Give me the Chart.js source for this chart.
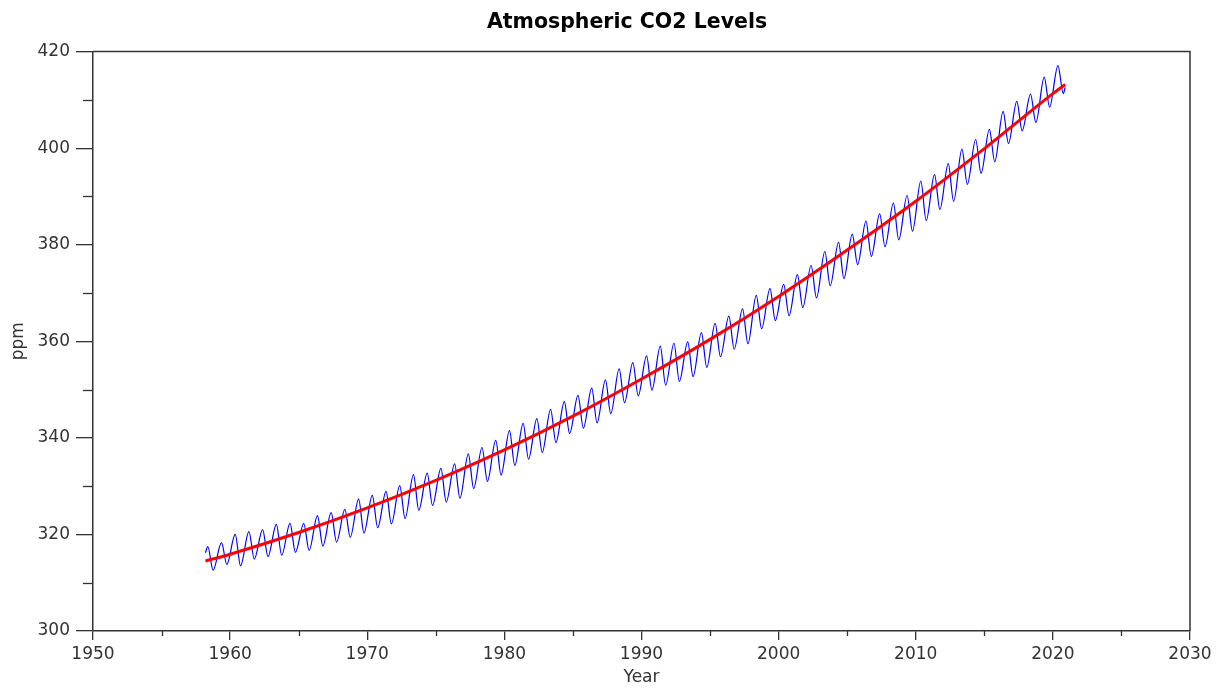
<!DOCTYPE html>
<html>
<head>
<meta charset="utf-8">
<title>Atmospheric CO2 Levels</title>
<script src="https://cdn.jsdelivr.net/npm/chart.js@4.4.1/dist/chart.umd.min.js"></script>
<style>
  html, body { margin: 0; padding: 0; background: #fff; }
  #wrap { width: 1222px; height: 688px; }
</style>
</head>
<body>
<div id="wrap"><canvas id="co2Chart" width="1222" height="688"></canvas></div>
<script>
// seasonal cycle: one high (May) and one low (autumn) per year
const years = [1958, 1959, 1960, 1961, 1962, 1963, 1964, 1965, 1966, 1967, 1968, 1969,
  1970, 1971, 1972, 1973, 1974, 1975, 1976, 1977, 1978, 1979, 1980, 1981, 1982, 1983,
  1984, 1985, 1986, 1987, 1988, 1989, 1990, 1991, 1992, 1993, 1994, 1995, 1996, 1997,
  1998, 1999, 2000, 2001, 2002, 2003, 2004, 2005, 2006, 2007, 2008, 2009, 2010, 2011,
  2012, 2013, 2014, 2015, 2016, 2017, 2018, 2019, 2020];
const mayPeak = [317.5, 318.3, 320.0, 320.6, 321.0, 322.1, 322.3, 322.3, 323.9, 324.5, 325.2, 327.3,
  328.1, 328.9, 330.1, 332.4, 332.7, 333.7, 334.6, 336.7, 338.0, 339.5, 341.5, 343.0, 344.0, 345.9,
  347.5, 348.8, 350.3, 352.0, 354.3, 355.6, 357.0, 359.0, 359.6, 359.9, 361.8, 363.7, 365.2, 366.7,
  369.5, 370.9, 371.8, 373.8, 375.7, 378.6, 380.5, 382.2, 384.9, 386.4, 388.6, 390.2, 393.2, 394.5,
  396.8, 399.8, 401.8, 403.9, 407.6, 409.7, 411.2, 414.7, 417.1];
const autumnLow = [312.6, 313.8, 313.5, 314.9, 315.4, 315.7, 316.3, 316.7, 317.6, 318.4, 319.4, 320.3,
  321.4, 322.2, 323.3, 325.0, 326.0, 326.7, 327.5, 329.5, 331.0, 332.3, 334.3, 335.6, 337.0, 339.0,
  340.9, 342.0, 343.1, 345.0, 347.3, 348.7, 349.9, 350.9, 351.7, 352.7, 354.6, 356.8, 358.4, 359.5,
  362.6, 364.3, 365.3, 367.0, 369.0, 371.5, 373.0, 375.9, 377.6, 379.6, 381.0, 382.8, 385.0, 387.3,
  389.0, 392.5, 394.8, 397.2, 401.0, 403.6, 405.3, 408.5, 411.3];
const firstObs = { year: 1958.2, ppm: 316.2 };
const lastObs = { year: 2020.9, ppm: 412.6 };

// fitted trend (red)
const trendYears = [1958.2, 1960, 1965, 1970, 1975, 1980, 1985, 1990, 1995, 2000, 2005, 2010, 2015, 2020, 2020.9];
const trendPpm = [314.5, 315.9, 320.4, 325.5, 331.2, 337.5, 344.5, 352.2, 360.4, 369.3, 378.9, 389.0, 399.9, 411.3, 413.2];

const xTicks = [1950, 1960, 1970, 1980, 1990, 2000, 2010, 2020, 2030];
const xMinor = [1955, 1965, 1975, 1985, 1995, 2005, 2015, 2025];
const yTicks = [300, 320, 340, 360, 380, 400, 420];
const yMinor = [310, 330, 350, 370, 390, 410];

const axisColor = '#333333';
const fontFamily = '"DejaVu Sans", Verdana, sans-serif';

const seasonal = [{ x: firstObs.year, y: firstObs.ppm }];
years.forEach((yr, i) => {
  seasonal.push({ x: yr + 0.37, y: mayPeak[i] });
  seasonal.push({ x: yr + 0.76, y: autumnLow[i] });
});
seasonal.push({ x: lastObs.year, y: lastObs.ppm });

const trend = trendYears.map((yr, i) => ({ x: yr, y: trendPpm[i] }));

// minor ticks and the top/right frame
const framePlugin = {
  id: 'frame',
  afterDraw(chart) {
    const { ctx, chartArea: a, scales: { x, y } } = chart;
    ctx.save();
    ctx.strokeStyle = axisColor;
    ctx.lineWidth = 1.5;
    ctx.beginPath();
    ctx.moveTo(a.left, a.top);
    ctx.lineTo(a.right, a.top);
    ctx.lineTo(a.right, a.bottom);
    ctx.stroke();
    ctx.lineWidth = 1.3;
    xMinor.forEach(v => {
      const px = Math.round(x.getPixelForValue(v)) + 0.5;
      ctx.beginPath();
      ctx.moveTo(px, a.bottom);
      ctx.lineTo(px, a.bottom + 5);
      ctx.stroke();
    });
    yMinor.forEach(v => {
      const py = Math.round(y.getPixelForValue(v)) + 0.5;
      ctx.beginPath();
      ctx.moveTo(a.left - 10, py);
      ctx.lineTo(a.left, py);
      ctx.stroke();
    });
    ctx.restore();
  }
};

new Chart(document.getElementById('co2Chart'), {
  type: 'line',
  data: {
    datasets: [
      {
        label: 'Trend',
        data: trend,
        borderColor: '#ff0000',
        borderWidth: 3,
        pointRadius: 0,
        cubicInterpolationMode: 'monotone',
        tension: 0.4,
        fill: false
      },
      {
        label: 'Monthly CO2',
        data: seasonal,
        borderColor: '#0000ff',
        borderWidth: 1.2,
        pointRadius: 0,
        cubicInterpolationMode: 'monotone',
        tension: 0.4,
        fill: false
      }
    ]
  },
  options: {
    responsive: false,
    animation: false,
    parsing: false,
    layout: { padding: { left: 32, right: 0, top: 0, bottom: 0 } },
    plugins: {
      legend: { display: false },
      tooltip: { enabled: false },
      title: {
        display: true,
        text: 'Atmospheric CO2 Levels',
        color: '#000',
        font: { family: fontFamily, size: 20.5, weight: 'bold' },
        padding: { top: 10, bottom: 17 }
      }
    },
    scales: {
      x: {
        type: 'linear',
        min: 1950,
        max: 2030,
        afterBuildTicks: s => { s.ticks = xTicks.map(v => ({ value: v })); },
        afterFit: s => { s.height = 57; s.paddingRight = 32; },
        grid: { drawOnChartArea: false, drawTicks: true, tickLength: 9, color: axisColor, lineWidth: 1.3 },
        border: { display: true, color: axisColor, width: 1.5 },
        ticks: { color: axisColor, padding: 4, maxRotation: 0, autoSkip: false,
          font: { family: fontFamily, size: 17 }, callback: v => String(v) },
        title: { display: true, text: 'Year', color: axisColor,
          font: { family: fontFamily, size: 17 }, padding: { top: 0, bottom: 0 } }
      },
      y: {
        type: 'linear',
        min: 300,
        max: 420,
        afterBuildTicks: s => { s.ticks = yTicks.map(v => ({ value: v })); },
        afterFit: s => { s.width = 61; },
        grid: { drawOnChartArea: false, drawTicks: true, tickLength: 17, color: axisColor, lineWidth: 1.3 },
        border: { display: true, color: axisColor, width: 1.5 },
        ticks: { color: axisColor, padding: 6, font: { family: fontFamily, size: 17 }, callback: v => String(v) },
        title: { display: true, text: 'ppm', color: axisColor,
          font: { family: fontFamily, size: 17 }, padding: { top: -24, bottom: 0 } }
      }
    }
  },
  plugins: [framePlugin]
});
</script>
</body>
</html>
